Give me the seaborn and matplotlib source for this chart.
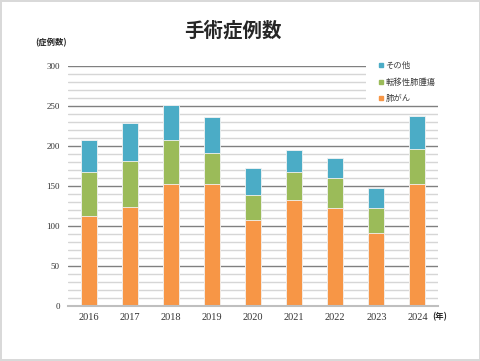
import matplotlib
matplotlib.use('AGG')

import matplotlib.pyplot as plt
import seaborn as sns
import pandas as pd
from matplotlib.patches import Rectangle
from matplotlib.lines import Line2D

years = ['2016', '2017', '2018', '2019', '2020', '2021', '2022', '2023', '2024']
lung_cancer = [113, 124, 152, 153, 108, 133, 123, 91, 152]
metastatic = [55, 57, 55, 38, 31, 34, 37, 32, 44]
other = [40, 48, 44, 45, 34, 28, 25, 24, 41]
series_names = ['その他', '転移性肺腫瘍', '肺がん']

colors = {'その他': '#4BACC6', '転移性肺腫瘍': '#9BBB59', '肺がん': '#F79646'}

df = pd.DataFrame({'year': years, 'lung': lung_cancer, 'meta': metastatic, 'other': other})
df['c1'] = df['lung']
df['c2'] = df['lung'] + df['meta']
df['c3'] = df['c2'] + df['other']

sns.set_style('white')
plt.rcParams['font.family'] = ['Noto Sans CJK JP', 'DejaVu Sans']

fig = plt.figure(figsize=(4.81, 3.61), dpi=100)
fig.patch.set_edgecolor('#d9d9d9')
fig.patch.set_linewidth(1.5)
ax = fig.add_axes([68 / 481, 1 - 306 / 361, 370 / 481, 240 / 361])

# stacked bars drawn back to front
for col, name in [('c3', 'その他'), ('c2', '転移性肺腫瘍'), ('c1', '肺がん')]:
    sns.barplot(data=df, x='year', y=col, color=colors[name], width=0.39,
                saturation=1, edgecolor='#f3f3f3', linewidth=0.6, ax=ax, zorder=2)

ax.set_ylim(0, 300)
ax.set_xlim(-0.5, 8.5)
ax.set_yticks(range(0, 301, 50))
ax.set_yticks(range(0, 301, 10), minor=True)
ax.set_axisbelow(True)
ax.grid(axis='y', which='major', color='#808080', linewidth=1.0)
ax.grid(axis='y', which='minor', color='#d6d6d6', linewidth=1.0)
ax.grid(axis='x', visible=False)
ax.tick_params(axis='both', which='both', length=0)
ax.tick_params(axis='y', pad=6)
ax.tick_params(axis='x', pad=5)
for lbl in ax.get_yticklabels():
    lbl.set_fontfamily('Liberation Serif')
    lbl.set_fontsize(6.5)
    lbl.set_color('#333333')
for lbl in ax.get_xticklabels():
    lbl.set_fontfamily('Liberation Serif')
    lbl.set_fontsize(7.5)
    lbl.set_color('#333333')
ax.set_xlabel('')
ax.set_ylabel('')
for side in ['top', 'right', 'left']:
    ax.spines[side].set_visible(False)
ax.spines['bottom'].set_color('#bfbfbf')
ax.spines['bottom'].set_linewidth(1.5)

# white panel behind the legend hides the top gridlines
ax.add_patch(Rectangle((0.805, 0.845), 0.25, 0.2, transform=ax.transAxes,
                       facecolor='white', edgecolor='none', zorder=1, clip_on=False))

handles = [Line2D([], [], marker='s', linestyle='', markersize=3,
                  color=colors[n]) for n in series_names]
ax.legend(handles, series_names, loc='upper left', bbox_to_anchor=(0.82, 1.045),
          frameon=False, fontsize=6, labelspacing=0.9, handletextpad=0.2,
          handlelength=0.8, borderpad=0.2, labelcolor='#404040')

fig.text(233 / 481, 1 - 31 / 361, '手術症例数', ha='center', va='center', fontsize=14,
         fontweight='bold', color='#262626', family=['Noto Sans CJK JP', 'DejaVu Sans'])
fig.text(35 / 481, 1 - 43 / 361, '(症例数)', ha='left', va='center', fontsize=6,
         fontweight='bold')
fig.text(432 / 481, 1 - 317 / 361, '(年)', ha='left', va='center', fontsize=6,
         fontweight='bold')

fig.savefig('out.png', dpi=100)
